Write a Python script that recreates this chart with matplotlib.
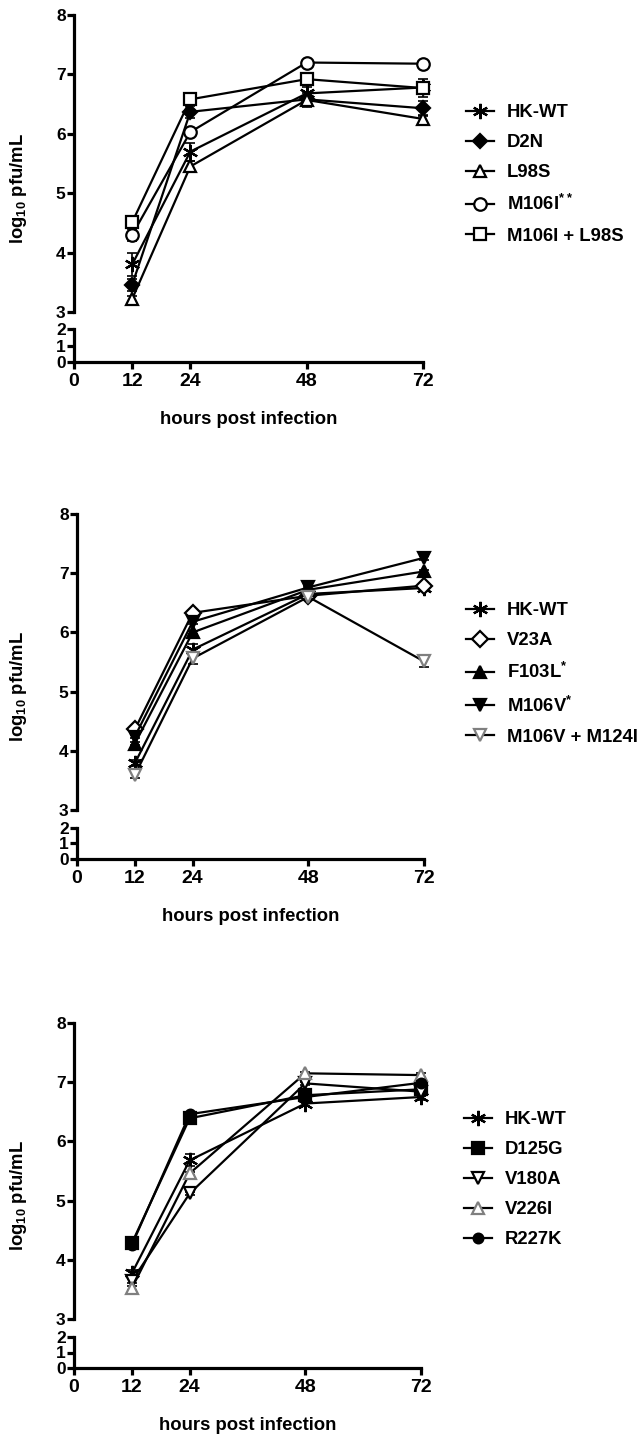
import numpy as np
import matplotlib
matplotlib.use("Agg")
import matplotlib.pyplot as plt
from matplotlib.lines import Line2D

plt.rcParams['font.family'] = ['Liberation Sans', 'DejaVu Sans']
plt.rcParams['font.weight'] = 'bold'
plt.rcParams['mathtext.fontset'] = 'custom'
plt.rcParams['mathtext.rm'] = 'Liberation Sans:bold'
plt.rcParams['mathtext.bf'] = 'Liberation Sans:bold'

# time points (hours post infection)
hours = [12, 24, 48, 72]
xticks = [0, 12, 24, 48, 72]

# panel 1
p1_names = ["HK-WT", "D2N", "L98S", "M106I$^{**}$", "M106I + L98S"]
p1_hkwt = [3.80, 5.70, 6.68, 6.78]
p1_d2n = [3.46, 6.37, 6.58, 6.43]
p1_l98s = [3.22, 5.45, 6.57, 6.25]
p1_m106i = [4.30, 6.03, 7.20, 7.18]
p1_m106i_l98s = [4.51, 6.58, 6.92, 6.77]
p1_err = [[0.20, 0.15, 0.10, 0.10],
          [0.10, 0.10, 0.05, 0.12],
          [0.05, 0.10, 0.12, 0.05],
          [0.10, 0.05, 0.05, 0.05],
          [0.05, 0.05, 0.05, 0.15]]

# panel 2
p2_names = ["HK-WT", "V23A", "F103L$^{*}$", "M106V$^{*}$", "M106V + M124I"]
p2_hkwt = [3.79, 5.71, 6.65, 6.75]
p2_v23a = [4.36, 6.33, 6.62, 6.79]
p2_f103l = [4.12, 6.00, 6.72, 7.03]
p2_m106v = [4.24, 6.18, 6.76, 7.26]
p2_m106v_m124i = [3.59, 5.56, 6.60, 5.51]
p2_err = [[0.05, 0.10, 0.05, 0.05],
          [0.03, 0.03, 0.03, 0.03],
          [0.03, 0.03, 0.03, 0.03],
          [0.03, 0.03, 0.03, 0.03],
          [0.05, 0.10, 0.05, 0.10]]

# panel 3
p3_names = ["HK-WT", "D125G", "V180A", "V226I", "R227K"]
p3_hkwt = [3.77, 5.68, 6.64, 6.75]
p3_d125g = [4.28, 6.39, 6.78, 6.88]
p3_v180a = [3.64, 5.12, 6.98, 6.84]
p3_v226i = [3.52, 5.46, 7.15, 7.12]
p3_r227k = [4.25, 6.46, 6.75, 6.99]
p3_err = [[0.05, 0.10, 0.05, 0.05],
          [0.03, 0.03, 0.03, 0.03],
          [0.03, 0.03, 0.03, 0.03],
          [0.03, 0.03, 0.03, 0.03],
          [0.03, 0.03, 0.03, 0.03]]

GRAY = '#7f7f7f'
asterisk = (6, 2, 0)
# marker, face colour, edge colour, size
p1_style = [(asterisk, 'black', 'black', 11), ('D', 'black', 'black', 7),
            ('^', 'white', 'black', 9), ('o', 'white', 'black', 9),
            ('s', 'white', 'black', 9)]
p2_style = [(asterisk, 'black', 'black', 11), ('D', 'white', 'black', 8),
            ('^', 'black', 'black', 8), ('v', 'black', 'black', 8),
            ('v', 'white', GRAY, 9)]
p3_style = [(asterisk, 'black', 'black', 11), ('s', 'black', 'black', 8),
            ('v', 'white', 'black', 9), ('^', 'white', GRAY, 9),
            ('o', 'black', 'black', 7)]

W, H = 642, 1437
fig = plt.figure(figsize=(W / 100, H / 100), dpi=100)

SPINE = 2.3
YTICKFS = 12.5
XTICKFS = 14
LABFS = 13.3


def fx(px):
    return px / W


def fy(px):
    return 1 - px / H


def panel(left, right, top8, bot3, top2, bot0, series, names, styles, errs,
          leg_x, leg_y):
    ax = fig.add_axes([fx(left), fy(bot3), fx(right) - fx(left), fy(top8) - fy(bot3)])
    axl = fig.add_axes([fx(left), fy(bot0), fx(right) - fx(left), fy(top2) - fy(bot0)])
    for a in (ax, axl):
        a.set_xlim(0, 72)
        a.spines['top'].set_visible(False)
        a.spines['right'].set_visible(False)
        a.spines['left'].set_linewidth(SPINE)
        a.spines['bottom'].set_linewidth(SPINE)
        a.patch.set_alpha(0)
        a.tick_params(width=SPINE, length=5, labelsize=YTICKFS, pad=1)
    ax.spines['bottom'].set_visible(False)
    ax.set_ylim(3, 8)
    ax.set_yticks([3, 4, 5, 6, 7, 8])
    ax.set_yticks([3], minor=True)
    ax.tick_params(which='minor', direction='in', length=5, width=SPINE)
    ax.tick_params(axis='x', bottom=False, labelbottom=False)
    axl.set_ylim(0, 2)
    axl.set_yticks([0, 1, 2])
    axl.set_yticks([2], minor=True)
    axl.tick_params(which='minor', direction='in', length=5, width=SPINE)
    axl.set_xticks(xticks)
    axl.tick_params(axis='x', pad=3, labelsize=XTICKFS)
    axl.set_xlabel("hours post infection", fontsize=LABFS, fontweight='bold',
                   labelpad=15)

    handles = []
    for vals, name, (mk, fc, ec, ms), err in zip(series, names, styles, errs):
        ax.errorbar(hours, vals, yerr=err, fmt='none', ecolor='black',
                    elinewidth=1.2, capsize=3.5, capthick=1.2, clip_on=False)
        ax.plot(hours, vals, color='black', lw=1.6, marker=mk, ms=ms,
                mfc=fc, mec=ec, mew=1.6, clip_on=False)
        handles.append(Line2D([], [], color='black', lw=1.6, marker=mk, ms=ms,
                              mfc=fc, mec=ec, mew=1.6, label=name))

    fig.text(fx(19), fy((top8 + bot0) / 2), r'log$_{\mathrm{10}}$ pfu/mL',
             rotation=90, ha='center', va='center', fontsize=LABFS,
             fontweight='bold')

    fig.legend(handles=handles, loc='upper left',
               bbox_to_anchor=(fx(leg_x), fy(leg_y)), frameon=False,
               handlelength=1.5, handletextpad=0.7,
               labelspacing=0.71, borderpad=0, borderaxespad=0,
               prop={'weight': 'bold', 'size': LABFS})


panel(74, 423, 15, 312, 329, 362,
      [p1_hkwt, p1_d2n, p1_l98s, p1_m106i, p1_m106i_l98s],
      p1_names, p1_style, p1_err, 466, 104)

panel(77, 424, 514, 810, 828, 859,
      [p2_hkwt, p2_v23a, p2_f103l, p2_m106v, p2_m106v_m124i],
      p2_names, p2_style, p2_err, 466, 602)

panel(74, 421, 1023, 1319, 1337, 1368,
      [p3_hkwt, p3_d125g, p3_v180a, p3_v226i, p3_r227k],
      p3_names, p3_style, p3_err, 464, 1111)

fig.savefig("out.png", dpi=100)
